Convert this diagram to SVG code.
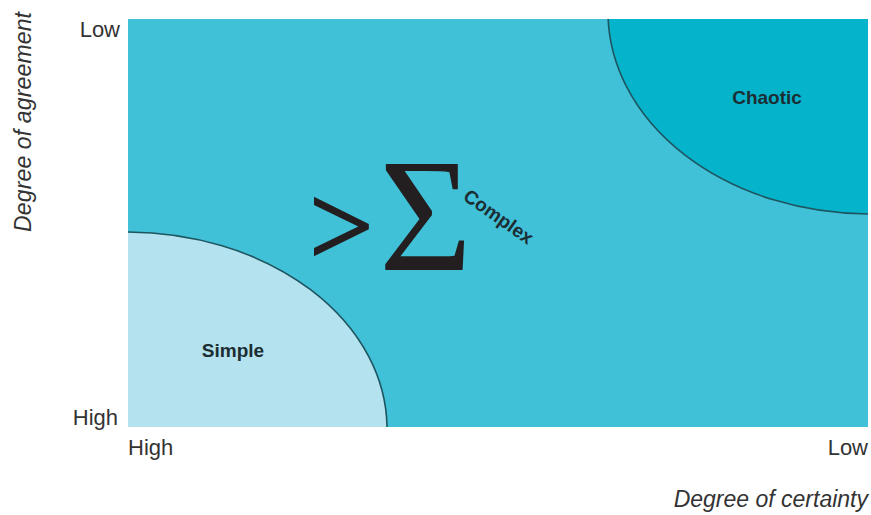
<svg xmlns="http://www.w3.org/2000/svg" width="871" height="515" viewBox="0 0 871 515">
<defs>
<clipPath id="plot"><rect x="128" y="19" width="740" height="408"/></clipPath>
<style>
.lbl{font-family:"Liberation Sans Narrow","Liberation Sans",Arial,sans-serif;font-size:22px;fill:#333333}
.ax{font-family:"Liberation Sans Narrow","Liberation Sans",Arial,sans-serif;font-size:23px;font-style:italic;fill:#333333}
.reg{font-family:"Liberation Sans Narrow","Liberation Sans",Arial,sans-serif;font-size:19px;font-weight:bold;fill:#1c2e33}
.sym{font-family:"Liberation Serif","Times New Roman",serif;fill:#231f20}
.edge{stroke:#1d5560;stroke-width:1.6}
</style>
</defs>
<rect width="871" height="515" fill="#ffffff"/>
<g id="complex">
<rect x="128" y="19" width="740" height="408" fill="#40c1d7"/>
<text class="reg" transform="translate(462,199) rotate(35)" font-size="18">Complex</text>
</g>
<g id="chaotic" clip-path="url(#plot)">
<ellipse class="edge" cx="870" cy="12" rx="262" ry="202" fill="#05b3cb"/>
</g>
<text class="reg" x="767" y="104" text-anchor="middle">Chaotic</text>
<g id="simple" clip-path="url(#plot)">
<ellipse class="edge" cx="126" cy="429" rx="261" ry="197" fill="#b4e2ee"/>
</g>
<text class="reg" x="233" y="357" text-anchor="middle">Simple</text>
<g id="symbols">
<text class="sym" x="308" y="266" font-size="118" font-weight="bold">&gt;</text>
<text class="sym" x="379" y="270" font-size="160">Σ</text>
</g>
<g id="axes">
<text class="lbl" x="120" y="37" text-anchor="end">Low</text>
<text class="lbl" x="118" y="425" text-anchor="end">High</text>
<text class="lbl" x="128" y="455">High</text>
<text class="lbl" x="868" y="455" text-anchor="end">Low</text>
<text class="ax" transform="translate(31,232) rotate(-90)" textLength="220">Degree of agreement</text>
<text class="ax" x="868" y="507" text-anchor="end">Degree of certainty</text>
</g>
</svg>
